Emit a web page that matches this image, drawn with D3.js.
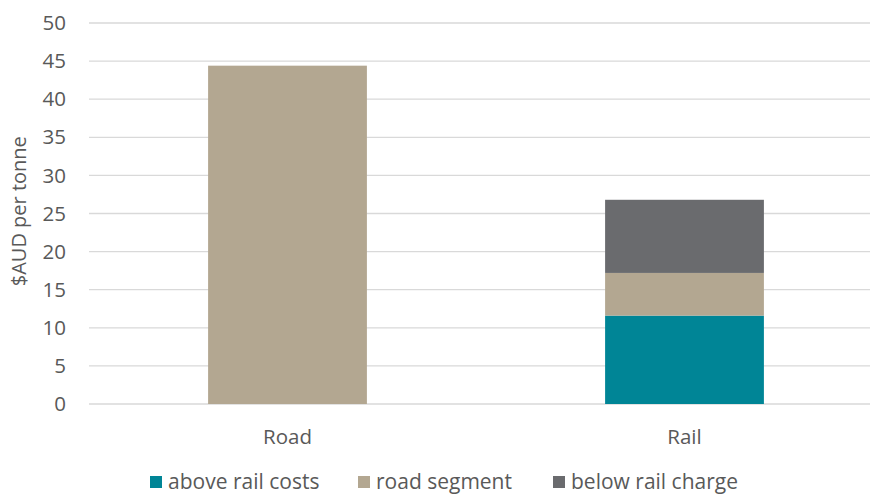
<!DOCTYPE html>
<html>
<head>
<meta charset="utf-8">
<script src="https://cdn.jsdelivr.net/npm/d3@7"></script>
<style>
  body { margin: 0; background: #fff; }
  text { font-family: "Open Sans", "Liberation Sans", sans-serif; fill: #595959; }
</style>
</head>
<body>
<div id="chart"></div>
<script>
const categories = ["Road", "Rail"];
const seriesNames = ["above rail costs", "road segment", "below rail charge"];
const seriesColors = ["#008596", "#b3a791", "#6a6b6e"];
const aboveRailCosts = [0, 11.6];
const roadSegment = [44.4, 5.6];
const belowRailCharge = [0, 9.6];
const yTicks = [0, 5, 10, 15, 20, 25, 30, 35, 40, 45, 50];

const w = 870, h = 496;
const margin = {left: 89, right: -13, top: 23, bottom: 92};

let svg = d3.select("#chart")
    .append("svg")
    .attr("width", w)
    .attr("height", h);

let rows = categories.map((c, i) => ({
    cat: c,
    "above rail costs": aboveRailCosts[i],
    "road segment": roadSegment[i],
    "below rail charge": belowRailCharge[i]
}));

let stacked = d3.stack().keys(seriesNames)(rows);

var x = d3.scaleBand()
    .domain(categories)
    .range([margin.left, w - margin.right])
    .paddingInner(0.6)
    .paddingOuter(0.3);

var y = d3.scaleLinear()
    .domain([0, 50])
    .range([h - margin.bottom, margin.top]);

// gridlines
svg.append("g")
    .selectAll("line")
    .data(yTicks)
    .join("line")
    .attr("x1", margin.left)
    .attr("x2", w)
    .attr("y1", d => y(d))
    .attr("y2", d => y(d))
    .attr("stroke", "#d9d9d9")
    .attr("stroke-width", 1.3);

// y tick labels
svg.append("g")
    .selectAll("text")
    .data(yTicks)
    .join("text")
    .attr("x", 66)
    .attr("y", d => y(d))
    .attr("dy", "0.35em")
    .attr("text-anchor", "end")
    .attr("font-size", 20.5)
    .text(d => d);

svg.append("text")
    .attr("transform", "translate(19," + y(25.3) + ") rotate(-90)")
    .attr("text-anchor", "middle")
    .attr("dy", "0.35em")
    .attr("font-size", 20)
    .text("$AUD per tonne");

// bars
svg.append("g")
    .selectAll("g")
    .data(stacked)
    .join("g")
    .attr("fill", (d, i) => seriesColors[i])
    .selectAll("rect")
    .data(d => d)
    .join("rect")
    .attr("x", d => x(d.data.cat))
    .attr("width", x.bandwidth())
    .attr("y", d => y(d[1]))
    .attr("height", d => y(d[0]) - y(d[1]));

// category labels
svg.append("g")
    .selectAll("text")
    .data(categories)
    .join("text")
    .attr("x", d => x(d) + x.bandwidth() / 2)
    .attr("y", 437)
    .attr("dy", "0.35em")
    .attr("text-anchor", "middle")
    .attr("font-size", 20.5)
    .text(d => d);

// legend
const legendX = [150, 358, 553];
let legend = svg.append("g")
    .selectAll("g")
    .data(seriesNames)
    .join("g")
    .attr("transform", (d, i) => "translate(" + legendX[i] + ",482)");

legend.append("rect")
    .attr("x", 0)
    .attr("y", -6)
    .attr("width", 12)
    .attr("height", 12)
    .attr("fill", (d, i) => seriesColors[i]);

legend.append("text")
    .attr("x", 18)
    .attr("dy", "0.35em")
    .attr("font-size", 21)
    .text(d => d);
</script>
</body>
</html>
